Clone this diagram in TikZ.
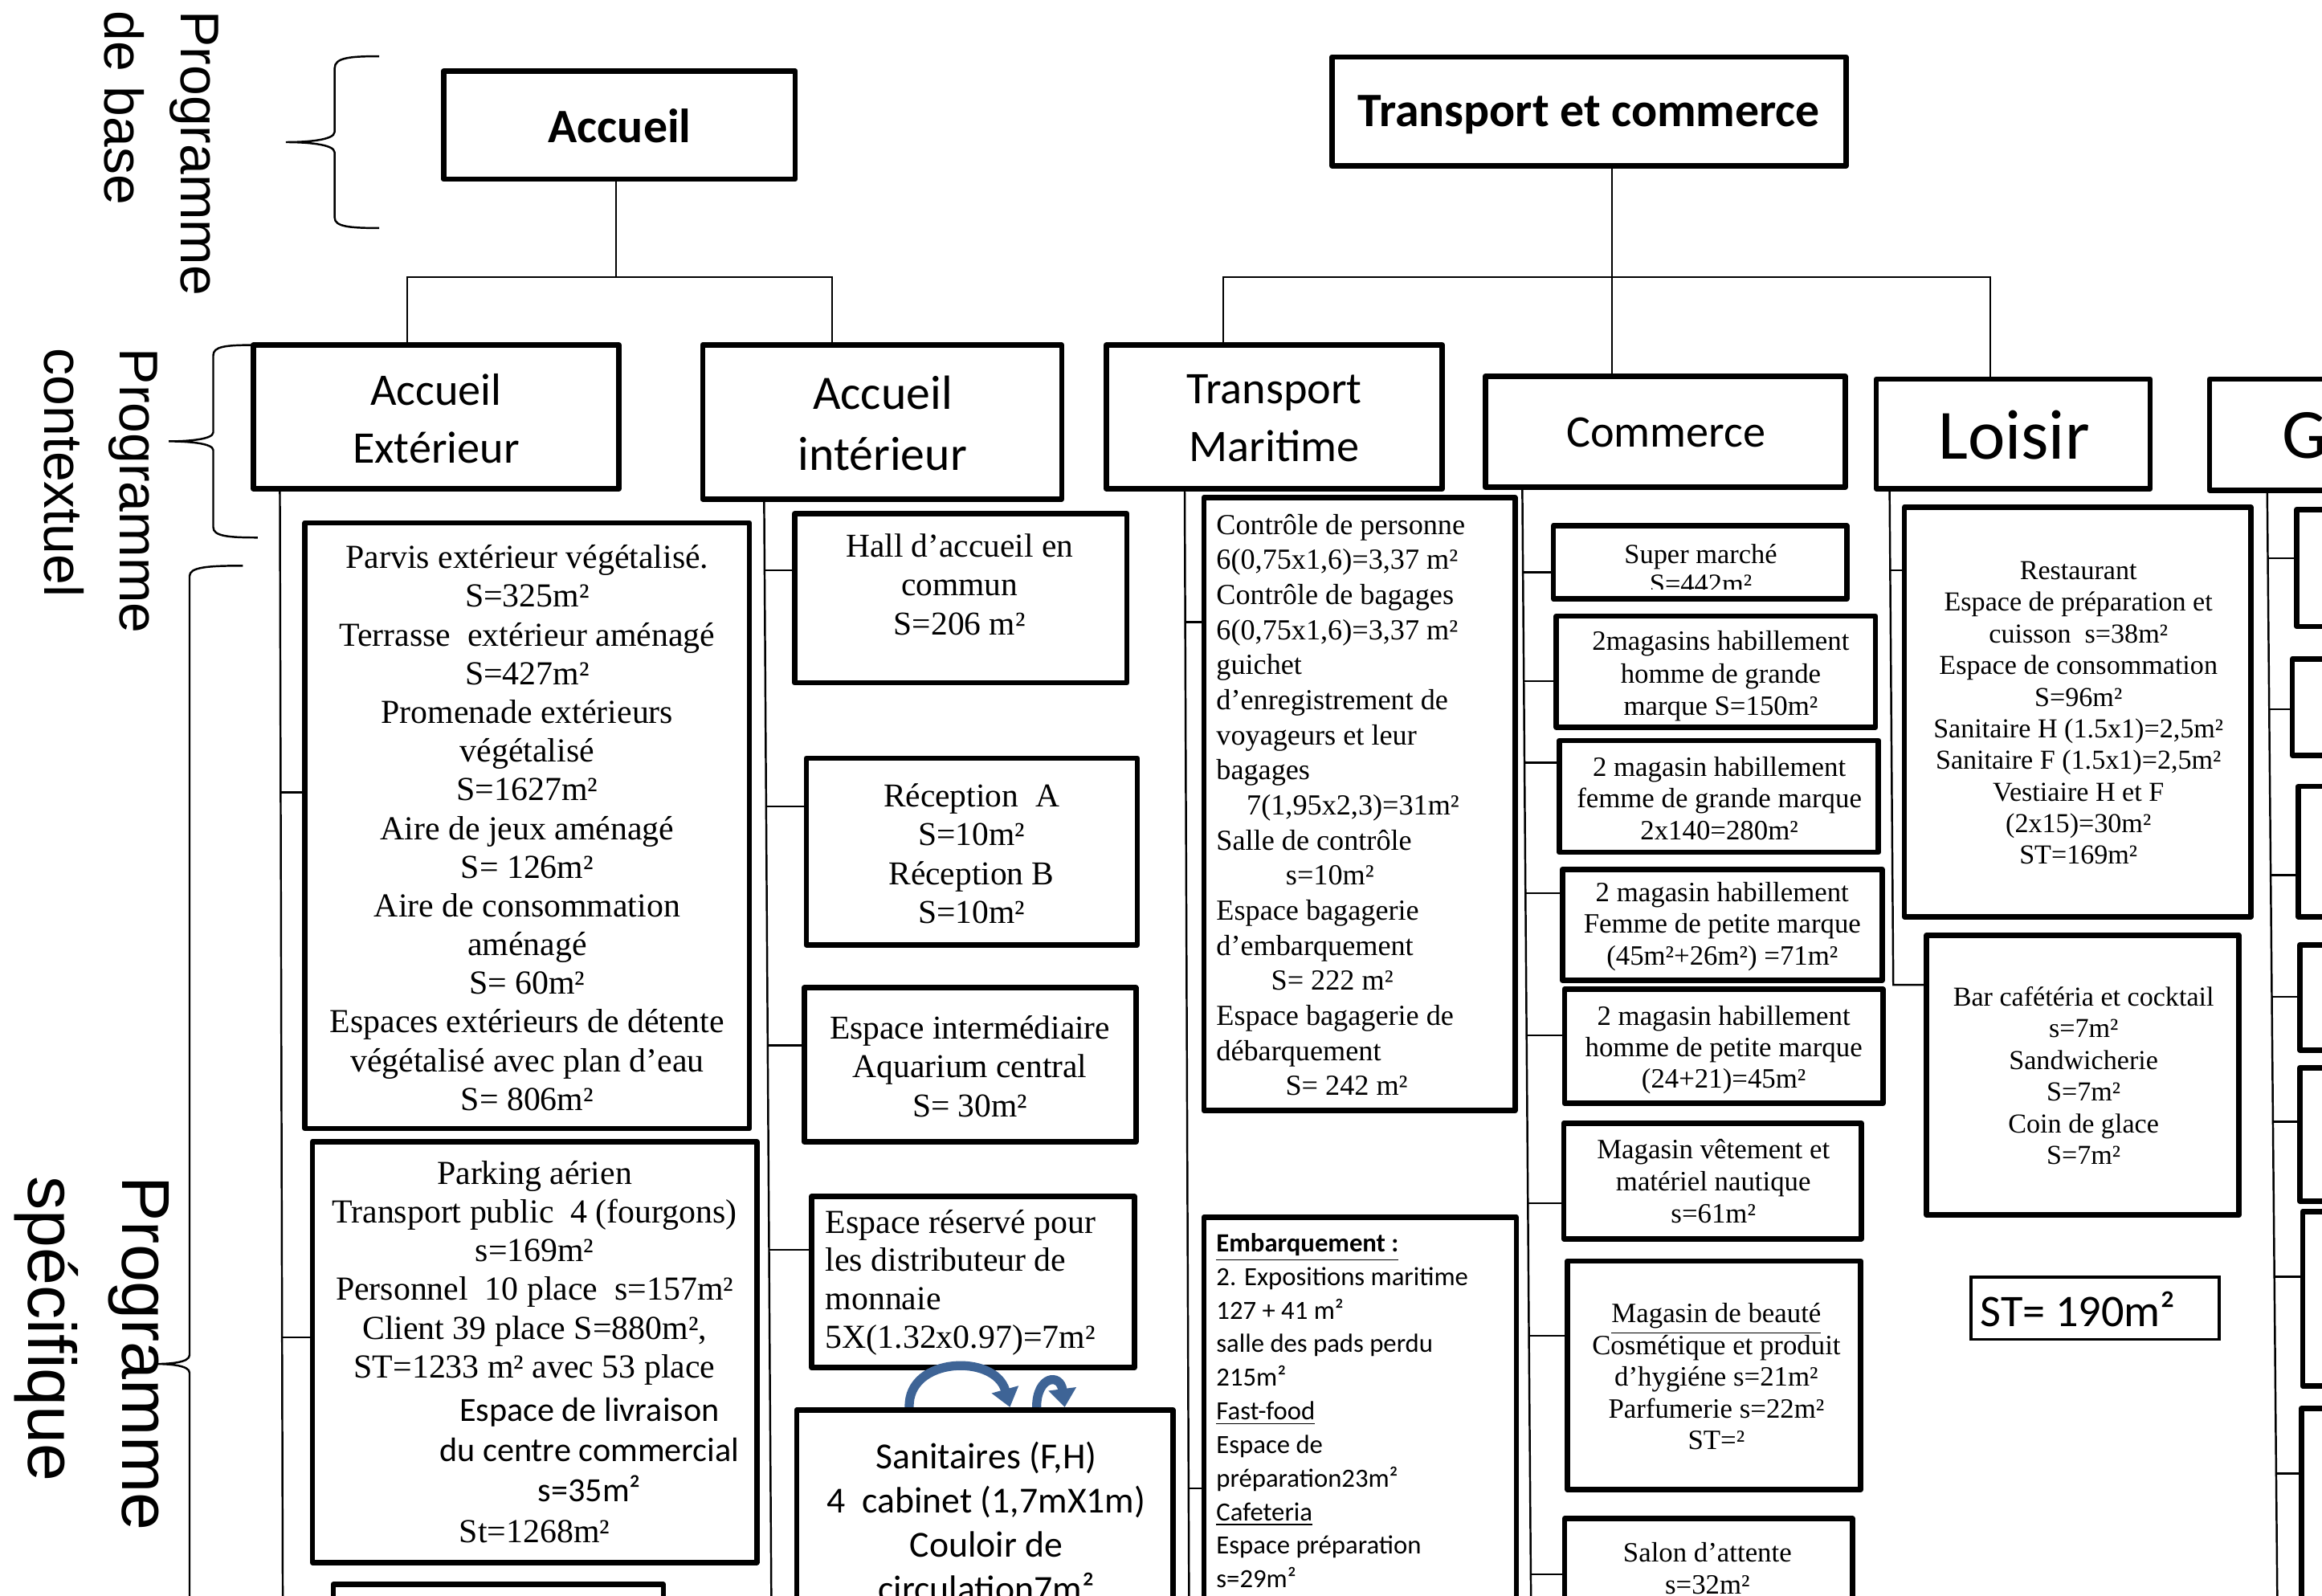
\documentclass[tikz,border=0pt]{standalone}
\usepackage{fontspec}
\setmainfont{Liberation Serif}
\newfontfamily\calfont{Carlito}
\newfontfamily\arifont{Liberation Sans}
\usetikzlibrary{fit,arrows.meta}
\definecolor{arrblue}{RGB}{62,100,150}
\newcommand\fsz[2]{\fontsize{#1pt}{#2pt}\selectfont}
\newcommand\rbox[5]{\node[bx, fit={(#2,#3) (#4,#5)}] (#1) {};}
\begin{document}
\begin{tikzpicture}[x=0.018437cm, y=-0.018437cm,
  bx/.style={draw, line width=1.9pt, inner sep=0pt, line join=round},
  cn/.style={line width=0.7pt},
  txt/.style={inner sep=0pt, align=center},
  vlab/.style={inner sep=0pt, rotate=-90, anchor=base west, font=\arifont\fsz{19.3}{23}},
  vlabb/.style={inner sep=0pt, rotate=-90, anchor=base west, font=\arifont\fsz{24}{28}},
  barrow/.style={draw=arrblue, line width=3.2pt, -{Triangle[width=9.5pt,length=6.5pt]}}]
\useasboundingbox (0,0) rectangle (1568,1077.7);
\clip (0,0) rectangle (1568,1077.7);

% ---------- side labels and braces
\node[vlab] (pb1) at (122.5,7) {Programme};
\node[vlab] (pb2) at (71,7) {de base};
\node[vlab] (pc1) at (81,235) {Programme};
\node[vlab] (pc2) at (30,235) {contextuel};
\node[vlabb] (ps1) at (82.5,794) {Programme};
\node[vlabb] (ps2) at (19,794) {spécifique};
\draw[cn] (256,38) .. controls (236,38) and (226,39) .. (226,46) -- (226,89)
  .. controls (226,95) and (205,96) .. (193,96) .. controls (205,96) and (226,97) .. (226,103)
  -- (226,147) .. controls (226,153) and (236,154) .. (256,154);
\draw[cn] (171,233) .. controls (152,233) and (144,234) .. (144,240) -- (144,292)
  .. controls (144,297) and (125,298) .. (114,298) .. controls (125,298) and (144,299) .. (144,304)
  -- (144,356) .. controls (144,362) and (154,363) .. (174,363);
\draw[cn] (164,382) .. controls (140,382) and (128,383) .. (128,389) -- (128,915)
  .. controls (128,920) and (115,921) .. (105,921) .. controls (115,921) and (128,922) .. (128,927)
  -- (128,1100);

% ---------- top level
\rbox{acc}{299.5}{48}{537}{121}
\node[font=\calfont\bfseries\fsz{17}{20}, inner sep=0pt] (accT) at (418.5,85) {Accueil};
\rbox{tec}{899.5}{38.5}{1246.5}{112}
\node[font=\calfont\bfseries\fsz{17}{20}, inner sep=0pt] (tecT) at (1073,77.5) {Transport et commerce};

% ---------- second level
\rbox{aext}{171}{233}{418}{330}
\node[txt, font=\calfont\fsz{16}{20.5}] (aextT) at (294.5,282.5) {Accueil\\Extérieur};
\rbox{aint}{474.5}{233}{717}{337}
\node[txt, font=\calfont\fsz{17}{21.6}] (aintT) at (596,286) {Accueil\\intérieur};
\rbox{tm}{747}{233}{974}{330}
\node[txt, font=\calfont\fsz{16}{20.5}] (tmT) at (860.5,282.5) {Transport\\Maritime};
\rbox{com}{1003}{254}{1246}{329}
\node[txt, font=\calfont\fsz{16}{20}] (comT) at (1125,292) {Commerce};
\rbox{loi}{1267}{256}{1452}{330}
\node[txt, font=\calfont\fsz{25}{30}] (loiT) at (1360,294) {Loisir};
\rbox{gbx}{1492}{256}{1620}{331}
\node[txt, font=\calfont\fsz{25}{30}, anchor=west] (gT) at (1541,294) {G};

\draw[cn] (acc.south -| 416,0) -- (416,187);
\draw[cn] (aext.north -| 275,0) -- (275,187) -- (562,187) -- (aint.north -| 562,0);
\draw[cn] (tec.south -| 1088.5,0) -- (com.north -| 1088.5,0);
\draw[cn] (tm.north -| 826,0) -- (826,187) -- (1344,187) -- (loi.north -| 1344,0);

% ---------- Accueil exterieur
\rbox{parvis}{206}{353}{506}{762}
\node[txt, font=\fsz{11.9}{13.71}] (parvisT) at (356,559) {Parvis extérieur végétalisé.\\S=325m²\\Terrasse~ extérieur aménagé\\S=427m²\\Promenade extérieurs\\végétalisé\\S=1627m²\\Aire de jeux aménagé\\S= 126m²\\Aire de consommation\\aménagé\\S= 60m²\\Espaces extérieurs de détente\\végétalisé avec plan d’eau\\S= 806m²};
\rbox{park}{211}{771}{511}{1055}
\node[txt, font=\fsz{11.9}{13.71}] (parkT1) at (361,859.5) {Parking aérien\\Transport public~ 4 (fourgons)\\s=169m²\\Personnel~ 10 place~ s=157m²\\Client 39 place S=880m²,\\ST=1233 m² avec 53 place};
\node[txt, font=\calfont\fsz{12}{14.2}] (parkT2) at (398,979) {Espace de livraison\\du centre commercial\\s=35m²};
\node[txt, font=\fsz{11.9}{13.71}] (parkT3) at (361,1034) {St=1268m²};
\rbox{pnext}{225}{1070}{448}{1130}
\draw[cn] (aext.south -| 189,0) -- (191,1100);
\draw[cn] (189.5,535) -- (parvis.west |- 0,535);
\draw[cn] (190.3,903) -- (park.west |- 0,903);

% ---------- Accueil interieur
\rbox{hall}{536.5}{347}{761}{461}
\node[txt, font=\fsz{11.8}{13.8}] (hallT) at (648,394.5) {Hall d’accueil en\\commun\\S=206 m²};
\rbox{rec}{544.5}{512}{768}{638}
\node[txt, font=\fsz{11.8}{13.8}] (recT) at (656,576.5) {Réception~ A\\S=10m²\\Réception B\\S=10m²};
\rbox{inter}{543}{667}{767}{771}
\node[txt, font=\fsz{11.8}{13.8}] (interT) at (655,720) {Espace intermédiaire\\Aquarium central\\S= 30m²};
\rbox{resv}{548}{808}{766}{923.5}
\node[txt, align=left, anchor=west, font=\fsz{11.9}{13.6}] (resvT) at (557,866) {Espace réservé pour\\les distributeur de\\monnaie\\5X(1.32x0.97)=7m²};
\rbox{sani}{538}{952}{792}{1130}
\node[txt, font=\calfont\fsz{13}{15.6}] (saniT) at (666,1027.5) {Sanitaires (F,H)\\4~ cabinet (1,7mX1m)\\Couloir de\\circulation7m²};
\draw[cn] (aint.south -| 516,0) -- (521,1100);
\draw[cn] (516.3,385) -- (hall.west |- 0,385);
\draw[cn] (517.4,544.5) -- (rec.west |- 0,544.5);
\draw[cn] (518.5,706) -- (inter.west |- 0,706);
\draw[cn] (519.5,844) -- (resv.west |- 0,844);
\draw[barrow] (sani.north -| 614,0) .. controls (613,916) and (672,914) .. (sani.north -| 682,0);
\draw[barrow] (sani.north -| 700,0) .. controls (700,929) and (716,927) .. (sani.north -| 719,0);

% ---------- Transport maritime
\rbox{ctrl}{813}{336}{1023}{750}
\node[txt, align=left, anchor=west, font=\fsz{10.3}{12.42}] (ctrlT) at (821,543.5) {Contrôle de personne\\6(0,75x1,6)=3,37 m²\\Contrôle de bagages\\6(0,75x1,6)=3,37 m²\\guichet\\d’enregistrement de\\voyageurs et leur\\bagages\\\hspace*{10.75pt}7(1,95x2,3)=31m²\\Salle de contrôle\\\hspace*{24.6pt}s=10m²\\Espace bagagerie\\d’embarquement\\\hspace*{19.4pt}S= 222 m²\\Espace bagagerie de\\débarquement\\\hspace*{24.5pt}S= 242 m²};
\rbox{emb}{813}{822}{1024}{1130}
\node[txt, align=left, anchor=west, font=\calfont\fsz{9.3}{11.9}] (embT) at (821,952.5) {\underline{\textbf{Embarquement :}}\\2. Expositions maritime\\127 + 41 m²\\salle des pads perdu\\215m²\\\underline{Fast-food}\\Espace de\\préparation23m²\\\underline{Cafeteria}\\Espace préparation\\s=29m²};
\draw[cn] (tm.south -| 800,0) -- (803,1100);
\draw[cn] (800.3,420) -- (ctrl.west |- 0,420);
\draw[cn] (802.3,1005) -- (emb.west |- 0,1005);

% ---------- Commerce
\rbox{ca}{1049}{355}{1247}{404.5}
\begin{scope}
\clip (1049,355) rectangle (1247,398);
\node[txt, font=\fsz{9.8}{10.5}] (caT) at (1148.5,384) {Super marché\\S=442m²};
\end{scope}
\rbox{cb}{1051}{416}{1266.5}{491}
\node[txt, font=\fsz{9.9}{11.4}] (cbT) at (1162,456.5) {2magasins habillement\\homme de grande\\marque S=150m²};
\rbox{cc}{1053}{500}{1268.5}{575.5}
\node[txt, font=\fsz{9.9}{11.2}] (ccT) at (1161,539) {2 magasin habillement\\femme de grande marque\\2x140=280m²};
\rbox{cd}{1055}{587}{1271}{662}
\node[txt, font=\fsz{9.9}{11.2}] (cdT) at (1163,625.5) {2 magasin habillement\\Femme de petite marque\\(45m²+26m²) =71m²};
\rbox{ce}{1056.5}{668}{1271.5}{745}
\node[txt, font=\fsz{9.9}{11.2}] (ceT) at (1164,709) {2 magasin habillement\\homme de petite marque\\(24+21)=45m²};
\rbox{cf}{1056}{758.5}{1257}{836.5}
\node[txt, font=\fsz{9.9}{11.3}] (cfT) at (1157,797.5) {Magasin vêtement et\\matériel nautique\\s=61m²};
\rbox{cg}{1058.5}{851.5}{1256.5}{1006}
\node[txt, font=\fsz{9.9}{11.2}] (cgT) at (1159,929.5) {\underline{Magasin de beauté}\\Cosmétique et produit\\d’hygiéne s=21m²\\Parfumerie s=22m²\\ST=²};
\rbox{ch}{1056.5}{1025.5}{1251}{1130}
\node[txt, font=\fsz{9.9}{11.3}] (chT) at (1153,1059) {Salon d’attente\\s=32m²};
\draw[cn] (com.south -| 1028,0) -- (1034,1100);
\draw[cn] (1028.4,386.5) -- (ca.west |- 0,386.5);
\draw[cn] (1029,460) -- (cb.west |- 0,460);
\draw[cn] (1029.4,515) -- (cc.west |- 0,515);
\draw[cn] (1030.1,603) -- (cd.west |- 0,603);
\draw[cn] (1030.9,699) -- (ce.west |- 0,699);
\draw[cn] (1031.8,812.5) -- (cf.west |- 0,812.5);
\draw[cn] (1032.5,902) -- (cg.west |- 0,902);
\draw[cn] (1033.7,1063) -- (ch.west |- 0,1063);

% ---------- Loisir
\rbox{rest}{1286}{342.5}{1520}{619}
\node[txt, font=\fsz{9.7}{11.2}] (restT) at (1403.5,481.5) {Restaurant\\Espace de préparation et\\cuisson~ s=38m²\\Espace de consommation\\S=96m²\\Sanitaire H (1.5x1)=2,5m²\\Sanitaire F (1.5x1)=2,5m²\\Vestiaire H et F\\(2x15)=30m²\\ST=169m²};
\rbox{bar}{1301}{631.5}{1512}{820.5}
\node[txt, font=\fsz{9.7}{11.25}] (barT) at (1407,726.3) {Bar cafétéria et cocktail\\s=7m²\\Sandwicherie\\S=7m²\\Coin de glace\\S=7m²};
\node[draw, line width=1pt, inner sep=0pt, fit={(1331,862.5) (1498.5,904.5)}] (st) {};
\node[inner sep=0pt, anchor=west, font=\calfont\fsz{16}{19}] (stT) at (1337,884) {ST= 190m²};
\draw[cn] (loi.south -| 1276,0) -- (1278.5,665) -- (bar.west |- 0,665);
\draw[cn] (1276.2,385) -- (rest.west |- 0,385);

% ---------- G column
\rbox{ga}{1551}{344}{1620}{423}
\rbox{gb}{1548}{445}{1620}{510}
\rbox{gc}{1552}{531}{1620}{619}
\rbox{gd}{1553}{638}{1620}{709}
\rbox{ge}{1553}{721}{1620}{811}
\rbox{gf}{1555}{818}{1620}{936}
\rbox{gg}{1554}{951}{1620}{1130}
\draw[cn] (gbx.south -| 1531,0) -- (1538,1100);
\draw[cn] (1531.2,377) -- (ga.west |- 0,377);
\draw[cn] (1532.1,479) -- (gb.west |- 0,479);
\draw[cn] (1533.2,591) -- (gc.west |- 0,591);
\draw[cn] (1533.9,673) -- (gd.west |- 0,673);
\draw[cn] (1534.7,757.5) -- (ge.west |- 0,757.5);
\draw[cn] (1535.7,862) -- (gf.west |- 0,862);
\draw[cn] (1536.9,995) -- (gg.west |- 0,995);
\end{tikzpicture}
\end{document}
